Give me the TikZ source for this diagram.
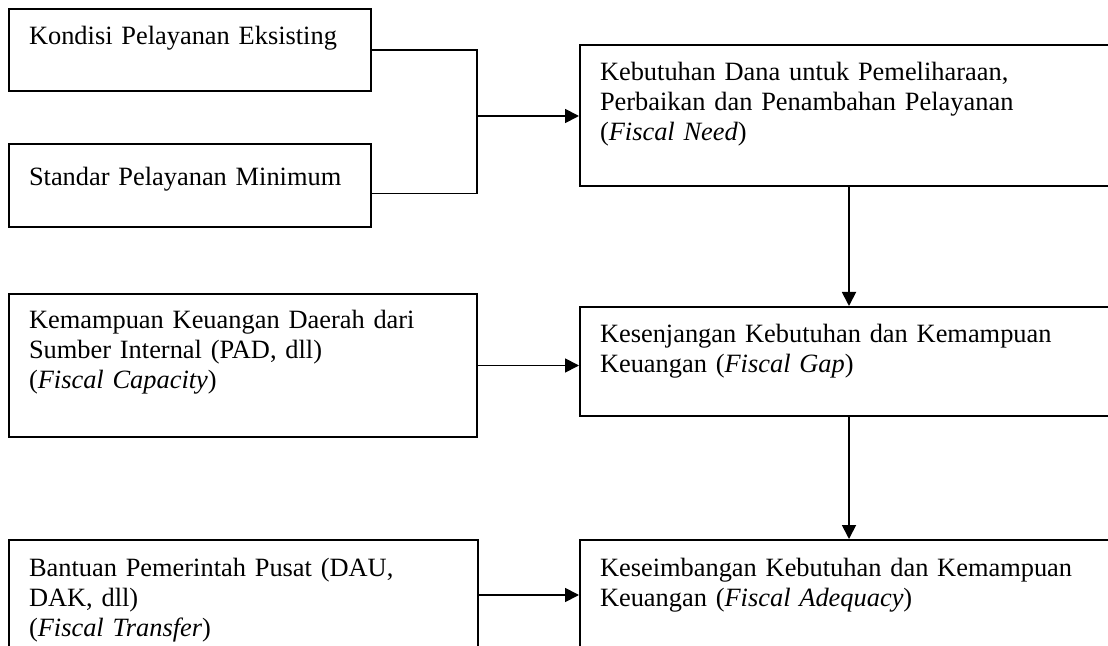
\documentclass[tikz,border=0pt]{standalone}
\usepackage{fontspec}
\setmainfont{Liberation Serif}
\usetikzlibrary{arrows.meta}

\begin{document}
\begin{tikzpicture}[x=0.5pt,y=-0.5pt,
	box/.style={draw,line width=1pt,anchor=north west,align=left,inner xsep=10pt,inner ysep=0pt,text height=18pt,font=\fontsize{13.2}{15}\selectfont,execute at begin node={\hyphenpenalty=10000 }},
	link/.style={line width=0.9pt},
	arr/.style={link,-{Triangle[length=7pt,width=7pt]}}]
	\useasboundingbox (0,0) rectangle (1108,646);
	\clip (0,0) rectangle (1108,646);
	\fill[white] (0,0) rectangle (1108,646);
	\node[box,text width=161pt,text depth=23pt] (kondisi) at (8,8) {Kondisi Pelayanan Eksisting};
	\node[box,text width=161pt,text height=21pt,text depth=20.5pt] (standar) at (8,143) {Standar Pelayanan Minimum};
	\node[box,text width=249pt,text depth=52.5pt] (need) at (579,44) {Kebutuhan Dana untuk Pemeliharaan,\\Perbaikan dan Penambahan Pelayanan\\(\textit{Fiscal Need})};
	\node[box,text width=214pt,text height=17.5pt,text depth=54pt] (capacity) at (8,293) {Kemampuan Keuangan Daerah dari\\Sumber Internal (PAD, dll)\\(\textit{Fiscal Capacity})};
	\node[box,text width=249pt,text depth=36.5pt] (gap) at (579,306) {Kesenjangan Kebutuhan dan Kemampuan\\Keuangan (\textit{Fiscal Gap})};
	\node[box,text width=214.5pt,text depth=37pt] (transfer) at (8,539) {Bantuan Pemerintah Pusat (DAU,\\DAK, dll)\\(\textit{Fiscal Transfer})};
	\node[box,text width=249pt,text depth=37pt] (adequacy) at (579,539) {Keseimbangan Kebutuhan dan Kemampuan\\Keuangan (\textit{Fiscal Adequacy})};

	\coordinate (join) at (477,116);
	\draw[link] (kondisi.east) -- (kondisi.east -| join) -- ([yshift=-4pt]standar.east -| join) -- ([yshift=-4pt]standar.east);
	\draw[arr] (join) -- (join -| need.west);
	\draw[arr] (need) -- (gap);
	\draw[arr] (capacity.east) -- (capacity.east -| gap.west);
	\draw[arr] (gap) -- (adequacy);
	\draw[arr] (transfer.east) -- (transfer.east -| adequacy.west);
\end{tikzpicture}
\end{document}
